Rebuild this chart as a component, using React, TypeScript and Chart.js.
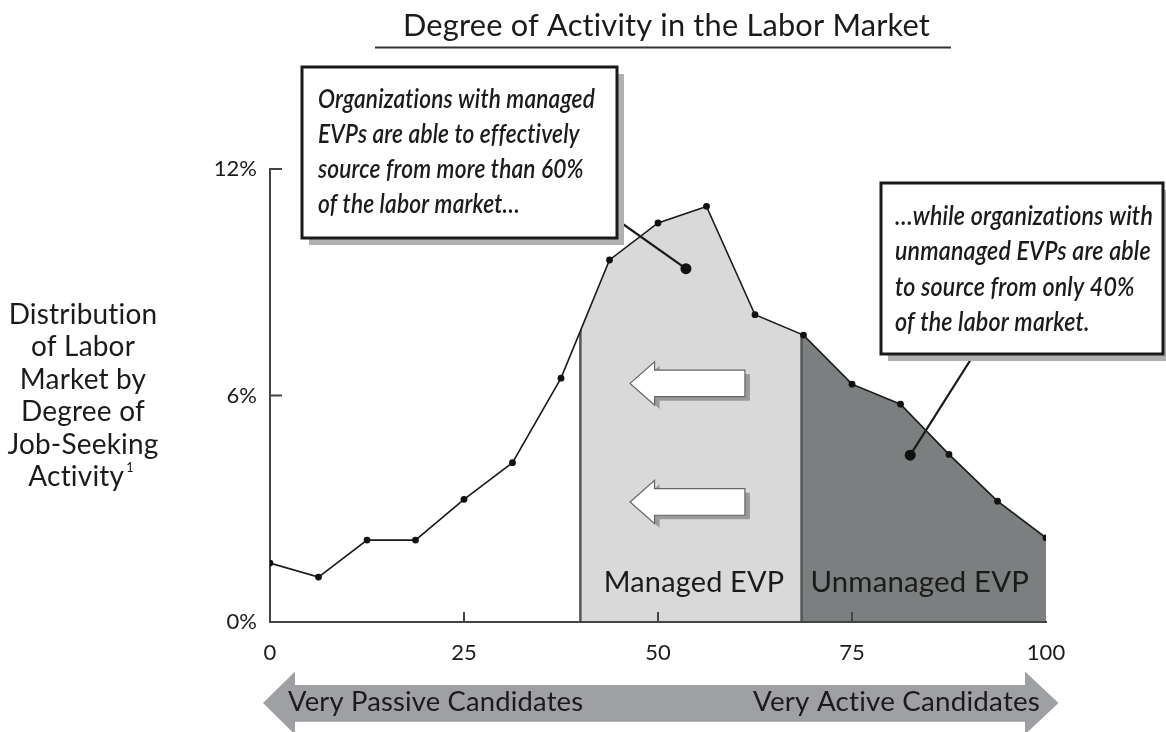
import React, { useEffect, useRef } from "react";
import { Chart, registerables } from "chart.js";

Chart.register(...registerables);

// ---------- data ----------
const activity = [0, 6.25, 12.5, 18.75, 25, 31.25, 37.5, 43.75, 50, 56.25, 62.5, 68.75, 75, 81.25, 87.5, 93.75, 100];
const share = [1.56, 1.19, 2.17, 2.17, 3.25, 4.22, 6.46, 9.59, 10.57, 11.01, 8.14, 7.6, 6.3, 5.77, 4.44, 3.2, 2.23];
const xTicks = [0, 25, 50, 75, 100];
const yTicks = [0, 6, 12];
const regionBounds = [40, 68.5, 100];
const regionLabels = ["Managed EVP", "Unmanaged EVP"];
const chartTitle = "Degree of Activity in the Labor Market";
const yTitleLines = ["Distribution", "of Labor", "Market by", "Degree of", "Job-Seeking", "Activity"];
const footnoteMark = "1";
const leftCallout = [
  "Organizations with managed",
  "EVPs are able to effectively",
  "source from more than 60%",
  "of the labor market\u2026",
];
const rightCallout = [
  "\u2026while organizations with",
  "unmanaged EVPs are able",
  "to source from only 40%",
  "of the labor market.",
];
const calloutTargets = [
  { x: 53.6, y: 9.36 },
  { x: 82.5, y: 4.42 },
];
const shiftArrowTips = [46.4, 46.4];
const shiftArrowTails = [61.2, 61.2];
const shiftArrowLevels = [6.32, 3.18];
const bandLabels = ["Very Passive Candidates", "Very Active Candidates"];

// ---------- styles ----------
const FAMILY = 'Lato, "Open Sans", sans-serif';
const TEXT = "#1c1a1b";
const LIGHT = "#d9d9d9";
const DARK = "#7b7f7f";
const BAND = "#9fa0a4";

function noLigatures(ctx: any) {
  try {
    ctx.textRendering = "optimizeSpeed";
  } catch (e) {}
  try {
    ctx.letterSpacing = "0.2px";
  } catch (e) {}
}

function fitFont(ctx: CanvasRenderingContext2D, text: string, target: number, style = "normal", weight = "normal") {
  ctx.font = `${style} ${weight} 100px ${FAMILY}`;
  const w = ctx.measureText(text).width;
  const size = (100 * target) / w;
  return `${style} ${weight} ${size.toFixed(2)}px ${FAMILY}`;
}

function drawCallout(
  ctx: CanvasRenderingContext2D,
  box: { l: number; t: number; r: number; b: number },
  lines: string[],
  textLeft: number,
  firstCenter: number,
  spacing: number,
  targetWidth: number
) {
  ctx.save();
  noLigatures(ctx);
  ctx.fillStyle = "#b0b0b0";
  ctx.fillRect(box.l + 7, box.t + 7, box.r - box.l, box.b - box.t);
  ctx.fillStyle = "#ffffff";
  ctx.fillRect(box.l, box.t, box.r - box.l, box.b - box.t);
  ctx.lineWidth = 3;
  ctx.strokeStyle = "#1a1a1a";
  ctx.strokeRect(box.l, box.t, box.r - box.l, box.b - box.t);
  ctx.font = `italic 600 27px ${FAMILY}`;
  let maxW = 0;
  lines.forEach((ln) => (maxW = Math.max(maxW, ctx.measureText(ln).width)));
  const sx = targetWidth / maxW;
  ctx.fillStyle = TEXT;
  ctx.textBaseline = "middle";
  ctx.textAlign = "left";
  lines.forEach((ln, i) => {
    ctx.save();
    ctx.translate(textLeft, firstCenter + i * spacing);
    ctx.scale(sx, 1);
    ctx.fillText(ln, 0, 0);
    ctx.restore();
  });
  ctx.restore();
}

const evpPlugin = {
  id: "evpPlugin",
  beforeDatasetsDraw(chart: any) {
    const { ctx } = chart;
    const xs = chart.scales.x;
    const ys = chart.scales.y;
    const px = (v: number) => xs.getPixelForValue(v);
    const py = (v: number) => ys.getPixelForValue(v);
    const base = py(0) - 1;
    ctx.save();
    ctx.beginPath();
    ctx.moveTo(px(activity[0]), base);
    activity.forEach((x, i) => ctx.lineTo(px(x), py(share[i])));
    ctx.lineTo(px(activity[activity.length - 1]), base);
    ctx.closePath();
    ctx.clip();
    const top = chart.chartArea.top - 20;
    ctx.fillStyle = LIGHT;
    ctx.fillRect(px(regionBounds[0]), top, px(regionBounds[1]) - px(regionBounds[0]), base - top);
    ctx.fillStyle = DARK;
    ctx.fillRect(px(regionBounds[1]), top, px(regionBounds[2]) - px(regionBounds[1]) + 2, base - top);
    ctx.strokeStyle = "#555";
    ctx.lineWidth = 2.5;
    [regionBounds[0], regionBounds[1]].forEach((b) => {
      ctx.beginPath();
      ctx.moveTo(px(b), base + 2);
      ctx.lineTo(px(b), top);
      ctx.stroke();
    });
    ctx.restore();

    // region labels
    ctx.save();
    noLigatures(ctx);
    ctx.fillStyle = TEXT;
    ctx.textAlign = "center";
    ctx.textBaseline = "middle";
    const widths = [179, 217];
    regionLabels.forEach((lab, i) => {
      ctx.font = fitFont(ctx, lab, widths[i]);
      const cx = (px(regionBounds[i]) + px(regionBounds[i + 1])) / 2 + (i === 0 ? 3 : -4);
      ctx.fillText(lab, cx, 583);
    });
    ctx.restore();

    // shift arrows
    ctx.save();
    shiftArrowLevels.forEach((lvl, i) => {
      const tip = px(shiftArrowTips[i]);
      const tail = px(shiftArrowTails[i]);
      const cy = py(lvl);
      const head = tip + 24.5;
      const hh = 21.7;
      const sh = 13.3;
      const path = (dx: number, dy: number) => {
        ctx.beginPath();
        ctx.moveTo(tip + dx, cy + dy);
        ctx.lineTo(head + dx, cy - hh + dy);
        ctx.lineTo(head + dx, cy - sh + dy);
        ctx.lineTo(tail + dx, cy - sh + dy);
        ctx.lineTo(tail + dx, cy + sh + dy);
        ctx.lineTo(head + dx, cy + sh + dy);
        ctx.lineTo(head + dx, cy + hh + dy);
        ctx.closePath();
      };
      path(5, 4);
      ctx.fillStyle = "#9a9a9a";
      ctx.fill();
      path(0, 0);
      ctx.fillStyle = "#ffffff";
      ctx.fill();
      ctx.strokeStyle = "#666";
      ctx.lineWidth = 1.2;
      ctx.stroke();
    });
    ctx.restore();
  },
  afterDatasetsDraw(chart: any) {
    const { ctx } = chart;
    const xs = chart.scales.x;
    const ys = chart.scales.y;
    const px = (v: number) => xs.getPixelForValue(v);
    const py = (v: number) => ys.getPixelForValue(v);
    const area = chart.chartArea;

    // inward tick marks
    ctx.save();
    ctx.strokeStyle = "#444";
    ctx.lineWidth = 2;
    yTicks.slice(1).forEach((v) => {
      ctx.beginPath();
      ctx.moveTo(area.left, py(v));
      ctx.lineTo(area.left + 12, py(v));
      ctx.stroke();
    });
    xTicks.slice(1, -1).forEach((v) => {
      ctx.beginPath();
      ctx.moveTo(px(v), area.bottom);
      ctx.lineTo(px(v), area.bottom - 10);
      ctx.stroke();
    });
    ctx.restore();

    // leader lines
    const starts = [
      { x: 596, y: 205 },
      { x: 985, y: 337 },
    ];
    ctx.save();
    ctx.strokeStyle = "#1a1a1a";
    ctx.fillStyle = "#111";
    ctx.lineWidth = 2.2;
    calloutTargets.forEach((t, i) => {
      ctx.beginPath();
      ctx.moveTo(starts[i].x, starts[i].y);
      ctx.lineTo(px(t.x), py(t.y));
      ctx.stroke();
      ctx.beginPath();
      ctx.arc(px(t.x), py(t.y), 5.5, 0, Math.PI * 2);
      ctx.fill();
    });
    ctx.restore();

    drawCallout(ctx, { l: 302, t: 67, r: 617, b: 238 }, leftCallout, 318, 99, 35, 277);
    drawCallout(ctx, { l: 881, t: 183, r: 1163, b: 354 }, rightCallout, 895, 216, 35.5, 258);
  },
  afterDraw(chart: any) {
    const { ctx } = chart;
    ctx.save();
    noLigatures(ctx);
    ctx.fillStyle = TEXT;
    ctx.textBaseline = "middle";

    // title
    ctx.textAlign = "left";
    ctx.font = fitFont(ctx, chartTitle, 522);
    ctx.fillText(chartTitle, 403, 26);
    ctx.strokeStyle = "#333";
    ctx.lineWidth = 2;
    ctx.beginPath();
    ctx.moveTo(375, 47.5);
    ctx.lineTo(951, 47.5);
    ctx.stroke();

    // y title
    ctx.textAlign = "center";
    const yFont = fitFont(ctx, yTitleLines[0], 147);
    ctx.font = yFont;
    const fs = parseFloat(yFont.split(" ")[2]);
    const supFont = `normal normal ${(fs * 0.45).toFixed(1)}px ${FAMILY}`;
    yTitleLines.forEach((ln, i) => {
      const cy = 315 + i * 32.4;
      if (i === yTitleLines.length - 1) {
        ctx.font = yFont;
        const w = ctx.measureText(ln).width;
        ctx.font = supFont;
        const w2 = ctx.measureText(footnoteMark).width;
        const left = 81 - (w + w2 + 2) / 2;
        ctx.textAlign = "left";
        ctx.font = yFont;
        ctx.fillText(ln, left, cy);
        ctx.font = supFont;
        ctx.fillText(footnoteMark, left + w + 2, cy - 9);
        ctx.textAlign = "center";
      } else {
        ctx.font = yFont;
        ctx.fillText(ln, 83, cy);
      }
    });

    // bottom double arrow band
    const yc = 703;
    ctx.fillStyle = BAND;
    ctx.beginPath();
    ctx.moveTo(263, yc);
    ctx.lineTo(295, yc - 31.5);
    ctx.lineTo(295, 685);
    ctx.lineTo(1025, 685);
    ctx.lineTo(1025, yc - 31.5);
    ctx.lineTo(1058.5, yc);
    ctx.lineTo(1025, yc + 31.5);
    ctx.lineTo(1025, 721.7);
    ctx.lineTo(295, 721.7);
    ctx.lineTo(295, yc + 31.5);
    ctx.closePath();
    ctx.fill();
    ctx.fillStyle = TEXT;
    ctx.textAlign = "left";
    ctx.font = fitFont(ctx, bandLabels[0], 292);
    ctx.fillText(bandLabels[0], 288, 702);
    ctx.font = fitFont(ctx, bandLabels[1], 284);
    ctx.fillText(bandLabels[1], 753, 702);
    ctx.restore();
  },
};

export default function App() {
  const ref = useRef<HTMLCanvasElement | null>(null);
  useEffect(() => {
    if (!ref.current) return;
    const chart = new Chart(ref.current, {
      type: "line",
      data: {
        datasets: [
          {
            data: activity.map((x, i) => ({ x, y: share[i] })),
            borderColor: "#1a1a1a",
            borderWidth: 1.6,
            pointRadius: 3.4,
            pointBackgroundColor: "#111",
            pointBorderWidth: 0,
            fill: false,
            tension: 0,
          },
        ],
      },
      options: {
        animation: false,
        responsive: false,
        maintainAspectRatio: false,
        layout: { padding: { top: 169, right: 120, left: 0, bottom: 0 } },
        plugins: { legend: { display: false }, tooltip: { enabled: false }, title: { display: false } },
        scales: {
          x: {
            type: "linear",
            min: 0,
            max: 100,
            afterBuildTicks: (s: any) => {
              s.ticks = xTicks.map((v) => ({ value: v }));
            },
            afterFit: (s: any) => {
              s.height = 110;
            },
            grid: { display: false, drawTicks: false },
            border: { display: true, color: "#444", width: 2 },
            ticks: { color: TEXT, font: { family: FAMILY, size: 22 }, padding: 18, maxRotation: 0 },
          },
          y: {
            type: "linear",
            min: 0,
            max: 12,
            afterBuildTicks: (s: any) => {
              s.ticks = yTicks.map((v) => ({ value: v }));
            },
            afterFit: (s: any) => {
              s.width = 270;
            },
            grid: { display: false, drawTicks: false },
            border: { display: true, color: "#444", width: 2 },
            ticks: {
              color: TEXT,
              font: { family: FAMILY, size: 22 },
              padding: 13,
              callback: (v: any) => `${v}%`,
            },
          },
        },
      },
      plugins: [evpPlugin],
    } as any);
    return () => chart.destroy();
  }, []);
  return (
    <div style={{ position: "fixed", left: 0, top: 0, width: 1166, height: 732, background: "#fff" }}>
      <canvas ref={ref} width={1166} height={732} style={{ width: 1166, height: 732, display: "block" }} />
    </div>
  );
}
